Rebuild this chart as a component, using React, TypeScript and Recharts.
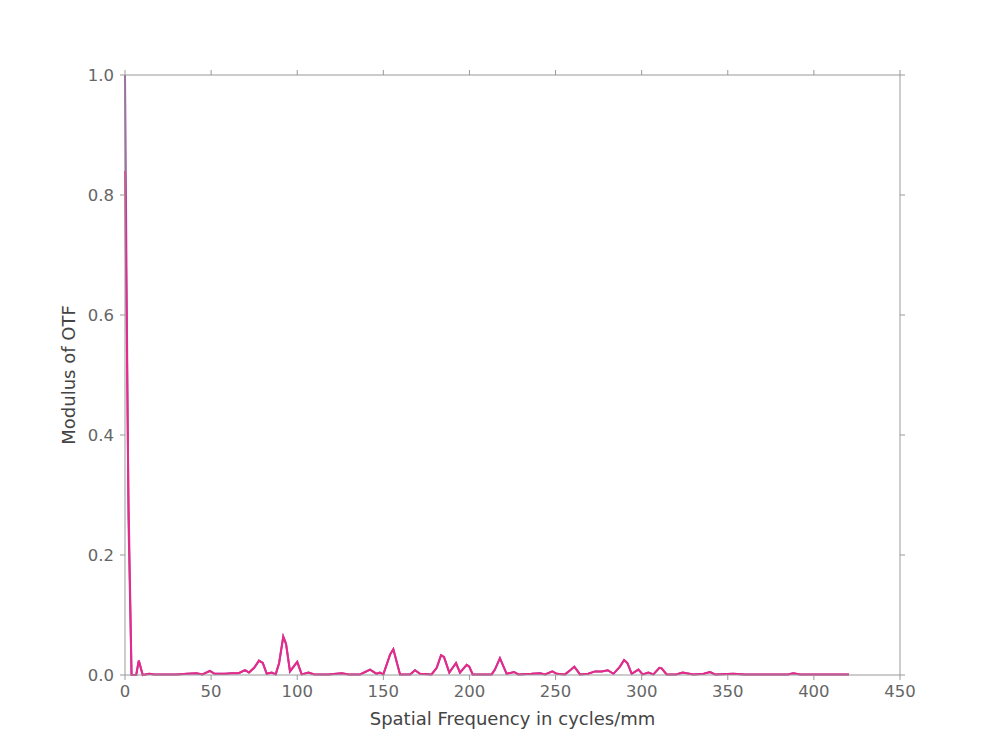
import { LineChart, Line, XAxis, YAxis } from "recharts";

// spatial frequency samples (cycles/mm)
const freq = [
  0, 2, 3.8, 6.5, 8, 10.3, 14, 17, 25, 30, 36, 41.5, 45, 49.3, 52, 58, 62, 66, 69.7, 72,
  75, 77.8, 80, 82.3, 85.2, 87.5, 89.5, 91.9, 93.5, 95.8, 100, 102.6, 106.5, 110, 118,
  125.8, 130, 136.5, 142.3, 146.1, 148, 150, 153.9, 155.8, 159.7, 165.5, 168.4, 171.3,
  178, 181, 183.5, 185.2, 188.3, 192.2, 194.5, 198.4, 199.9, 201.9, 212.9, 214.8, 217.7,
  221.6, 225.9, 228.4, 236, 241, 244, 248.1, 250.7, 255.5, 258.5, 260.9, 264.2, 269,
  272.9, 276.8, 280.3, 283.6, 287.4, 289.8, 291.7, 294.2, 298.1, 300.6, 303.9, 306.8,
  310.3, 311.6, 314.5, 320, 323.8, 330, 336, 339.7, 342.6, 353.2, 360, 375, 385, 388,
  392, 400, 410, 420.4,
];

const otfPink = [
  0.84, 0.3, 0, 0, 0.024, 0, 0.002, 0.001, 0.001, 0.001, 0.002, 0.003, 0.001, 0.007, 0.002,
  0.002, 0.003, 0.003, 0.008, 0.004, 0.012, 0.024, 0.02, 0.002, 0.004, 0.001, 0.02, 0.064,
  0.052, 0.006, 0.022, 0.001, 0.004, 0.001, 0.001, 0.003, 0.001, 0.001, 0.009, 0.002, 0.004,
  0.001, 0.034, 0.043, 0.001, 0.001, 0.008, 0.002, 0.001, 0.012, 0.033, 0.03, 0.004, 0.02,
  0.004, 0.017, 0.014, 0.001, 0.001, 0.009, 0.028, 0.002, 0.005, 0.001, 0.002, 0.003, 0.001,
  0.006, 0.002, 0.001, 0.008, 0.014, 0.001, 0.002, 0.006, 0.006, 0.008, 0.002, 0.014, 0.025,
  0.02, 0.002, 0.009, 0.001, 0.004, 0.001, 0.012, 0.011, 0.001, 0.001, 0.004, 0.001, 0.002,
  0.005, 0.001, 0.002, 0.001, 0.001, 0.001, 0.003, 0.001, 0.001, 0.001, 0.001,
];

const otfPurple = [
  1.0, 0.26, 0, 0, 0.024, 0, 0.002, 0.001, 0.001, 0.001, 0.002, 0.003, 0.001, 0.007, 0.002,
  0.002, 0.003, 0.003, 0.008, 0.004, 0.012, 0.024, 0.02, 0.002, 0.004, 0.001, 0.02, 0.064,
  0.052, 0.006, 0.022, 0.001, 0.004, 0.001, 0.001, 0.003, 0.001, 0.001, 0.009, 0.002, 0.004,
  0.001, 0.034, 0.043, 0.001, 0.001, 0.008, 0.002, 0.001, 0.012, 0.033, 0.03, 0.004, 0.02,
  0.004, 0.017, 0.014, 0.001, 0.001, 0.009, 0.028, 0.002, 0.005, 0.001, 0.002, 0.003, 0.001,
  0.006, 0.002, 0.001, 0.008, 0.014, 0.001, 0.002, 0.006, 0.006, 0.008, 0.002, 0.014, 0.025,
  0.02, 0.002, 0.009, 0.001, 0.004, 0.001, 0.012, 0.011, 0.001, 0.001, 0.004, 0.001, 0.002,
  0.005, 0.001, 0.002, 0.001, 0.001, 0.001, 0.003, 0.001, 0.001, 0.001, 0.001,
];

const xTicks = [0, 50, 100, 150, 200, 250, 300, 350, 400, 450];
const yTicks = [0, 0.2, 0.4, 0.6, 0.8, 1.0];

const axisColor = "#999";
const tickStyle = { fontSize: 16.5, fill: "#666", fontFamily: "DejaVu Sans" };
const noLabel = () => <g />;

export default function App() {
  const data = freq.map((f, i) => ({ f, pink: otfPink[i], purple: otfPurple[i] }));

  return (
    <div style={{ position: "absolute", left: 0, top: 0, background: "#fff", fontFamily: "DejaVu Sans" }}>
      <LineChart
        width={1000}
        height={750}
        data={data}
        margin={{ top: 74, right: 99, left: 65, bottom: 25 }}
      >
        <XAxis
          xAxisId="bottom"
          dataKey="f"
          type="number"
          domain={[0, 450]}
          ticks={xTicks}
          height={50}
          stroke={axisColor}
          tick={tickStyle}
          tickSize={5}
          tickMargin={5}
          label={{
            value: "Spatial Frequency in cycles/mm",
            position: "insideBottom",
            offset: 0,
            style: { fontSize: 18, fill: "#444", fontFamily: "DejaVu Sans" },
          }}
        />
        <XAxis
          xAxisId="top"
          dataKey="f"
          type="number"
          orientation="top"
          domain={[0, 450]}
          ticks={xTicks}
          height={1}
          stroke={axisColor}
          tick={noLabel}
          tickSize={5}
        />
        <YAxis
          yAxisId="left"
          type="number"
          domain={[0, 1]}
          ticks={yTicks}
          width={60}
          stroke={axisColor}
          tick={tickStyle}
          tickSize={5}
          tickMargin={6}
          tickFormatter={(v: number) => v.toFixed(1)}
          label={{
            value: "Modulus of OTF",
            angle: -90,
            position: "insideLeft",
            offset: 4,
            style: { fontSize: 18, fill: "#444", fontFamily: "DejaVu Sans", textAnchor: "middle" },
          }}
        />
        <YAxis
          yAxisId="right"
          type="number"
          orientation="right"
          domain={[0, 1]}
          ticks={yTicks}
          width={1}
          stroke={axisColor}
          tick={noLabel}
          tickSize={5}
        />
        <Line
          xAxisId="bottom"
          yAxisId="left"
          dataKey="purple"
          type="linear"
          stroke="#984ea3"
          strokeWidth={2}
          dot={false}
          isAnimationActive={false}
        />
        <Line
          xAxisId="top"
          yAxisId="right"
          dataKey="pink"
          type="linear"
          stroke="#e7298a"
          strokeWidth={2}
          dot={false}
          isAnimationActive={false}
        />
      </LineChart>
    </div>
  );
}
